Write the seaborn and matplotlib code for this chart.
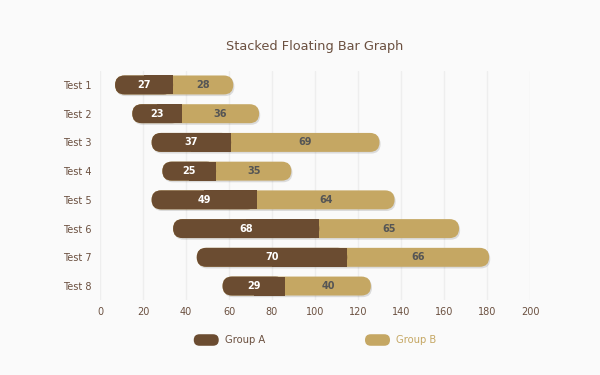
import matplotlib
matplotlib.use("Agg")
import matplotlib.pyplot as plt
import matplotlib.patheffects as pe
import numpy as np
import pandas as pd
import seaborn as sns
from matplotlib.patches import FancyBboxPatch, Rectangle, Patch
from matplotlib.legend_handler import HandlerPatch

tests = ["Test 1", "Test 2", "Test 3", "Test 4", "Test 5", "Test 6", "Test 7", "Test 8"]
start = [7, 15, 24, 29, 24, 34, 45, 57]
group_a = [27, 23, 37, 25, 49, 68, 70, 29]
group_b = [28, 36, 69, 35, 64, 65, 66, 40]
x_ticks = [0, 20, 40, 60, 80, 100, 120, 140, 160, 180, 200]

COL_A = "#6b4c31"
COL_B = "#c5a763"
BG = "#fafafa"
TXT = "#6b5040"

df = pd.DataFrame({"test": tests, "start": start, "a": group_a, "b": group_b})
df["split"] = df["start"] + df["a"]

sns.set_theme(style="whitegrid")
plt.rcParams["font.family"] = ["DejaVu Sans"]

fig, ax = plt.subplots(figsize=(6, 3.75), dpi=100)
fig.patch.set_facecolor(BG)
ax.set_facecolor(BG)
fig.subplots_adjust(left=100 / 600, right=530 / 600, bottom=1 - 300.4 / 375, top=1 - 70.6 / 375)

sns.barplot(data=df, x="a", y="test", left=df["start"], color=COL_A, width=0.66,
            errorbar=None, orient="h", ax=ax)
sns.barplot(data=df, x="b", y="test", left=df["split"], color=COL_B, width=0.66,
            errorbar=None, orient="h", ax=ax)

ax.set_xlim(0, 200)
ax.set_ylim(len(tests) - 0.5, -0.5)
ax.set_xticks(x_ticks)
ax.set_xlabel("")
ax.set_ylabel("")
ax.grid(axis="y", visible=False)
ax.grid(axis="x", color="#eeeeee", linewidth=1)
for s in ax.spines.values():
    s.set_visible(False)
ax.tick_params(axis="both", length=0, labelsize=7, labelcolor=TXT)
ax.tick_params(axis="y", pad=6)
ax.tick_params(axis="x", pad=5)

# rebuild the bars with rounded outer ends
fig.canvas.draw()
p0 = ax.transData.transform((0, 0))
p1 = ax.transData.transform((1, 1))
sx = abs(p1[0] - p0[0])
sy = abs(p1[1] - p0[1])
aspect = sx / sy

bars = list(ax.patches)
n = len(tests)
a_bars, b_bars = bars[:n], bars[n:]
for pa, pb in zip(a_bars, b_bars):
    x0, y0, wa, h = pa.get_x(), pa.get_y(), pa.get_width(), pa.get_height()
    xb, wb = pb.get_x(), pb.get_width()
    pa.remove()
    pb.remove()
    r = h / (2 * aspect)
    full = FancyBboxPatch((x0, y0), wa + wb, h,
                          boxstyle=f"round,pad=0,rounding_size={r}",
                          mutation_aspect=aspect, fc=COL_B, ec="none", zorder=3)
    full.set_path_effects([pe.SimplePatchShadow(offset=(0.8, -1.2), shadow_rgbFace="#000000", alpha=0.12),
                           pe.Normal()])
    ax.add_patch(full)
    left = FancyBboxPatch((x0, y0), wa, h,
                          boxstyle=f"round,pad=0,rounding_size={r}",
                          mutation_aspect=aspect, fc=COL_A, ec="none", lw=0, zorder=4)
    ax.add_patch(left)
    ax.add_patch(Rectangle((x0 + wa / 2, y0), wa / 2, h, fc=COL_A, ec="none", lw=0, zorder=4))
    yc = y0 + h / 2
    ax.text(x0 + wa / 2, yc, f"{wa:g}", ha="center", va="center", color="white",
            fontsize=7, fontweight="bold", zorder=5)
    ax.text(xb + wb / 2, yc, f"{wb:g}", ha="center", va="center", color="#555555",
            fontsize=7, fontweight="bold", zorder=5)

ax.set_title("Stacked Floating Bar Graph", fontsize=9.3, color=TXT, pad=15)


def rounded_handle(legend, orig_handle, xdescent, ydescent, width, height, fontsize):
    return FancyBboxPatch((-xdescent, -ydescent), width, height,
                          boxstyle=f"round,pad=0,rounding_size={height / 2}")


handles = [Patch(facecolor=COL_A, edgecolor="none", label="Group A"),
           Patch(facecolor=COL_B, edgecolor="none", label="Group B")]
leg = fig.legend(handles=handles, loc="center", bbox_to_anchor=(315 / 600, 1 - 340 / 375),
                 ncol=2, frameon=False, fontsize=7.2, handlelength=2.5, handleheight=1.4,
                 handletextpad=0.6, columnspacing=10,
                 handler_map={Patch: HandlerPatch(patch_func=rounded_handle)})
leg.get_texts()[0].set_color(TXT)
leg.get_texts()[1].set_color(COL_B)

fig.savefig("out.png", dpi=100, facecolor=BG)
